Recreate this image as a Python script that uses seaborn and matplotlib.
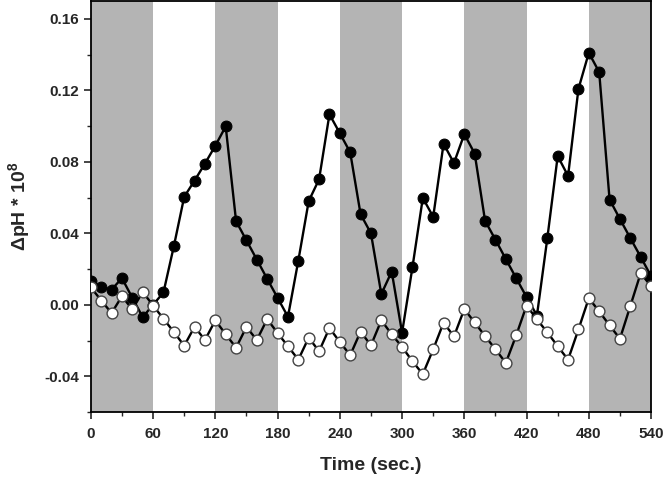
import matplotlib
matplotlib.use("Agg")
import matplotlib.pyplot as plt
from matplotlib.ticker import MultipleLocator, FormatStrFormatter
import seaborn as sns
import pandas as pd
import numpy as np

# donnees (pas de 10 s)
temps = list(range(0, 550, 10))
ph_plein = [0.0135, 0.010, 0.0085, 0.0149, 0.0039, -0.0069, 0.000, 0.0069, 0.0327, 0.0604,
            0.0695, 0.079, 0.089, 0.0998, 0.0468, 0.036, 0.0253, 0.0145, 0.0039, -0.0067,
            0.0247, 0.058, 0.0702, 0.1066, 0.096, 0.0853, 0.0507, 0.040, 0.006, 0.0186,
            -0.0156, 0.021, 0.0598, 0.0492, 0.0901, 0.0793, 0.0955, 0.0846, 0.047, 0.0364,
            0.0256, 0.0149, 0.0043, -0.006, 0.0372, 0.0832, 0.0721, 0.1208, 0.141, 0.1302,
            0.0589, 0.048, 0.0373, 0.0268, 0.016]
ph_vide = [0.0098, 0.0024, -0.0046, 0.0048, -0.0026, 0.0072, -0.0004, -0.0078, -0.0152, -0.0229,
           -0.0123, -0.0197, -0.0087, -0.0165, -0.024, -0.0124, -0.0197, -0.008, -0.0158, -0.0232,
           -0.0307, -0.0184, -0.026, -0.013, -0.0208, -0.0282, -0.015, -0.0227, -0.0087, -0.0165,
           -0.0236, -0.0316, -0.0388, -0.0249, -0.010, -0.0177, -0.0024, -0.0099, -0.0175, -0.0249,
           -0.0325, -0.0171, -0.0004, -0.0082, -0.0154, -0.0232, -0.0307, -0.0138, 0.0037, -0.0037,
           -0.0115, -0.019, -0.0007, 0.0177, 0.0104]
bandes = [(0, 60), (120, 180), (240, 300), (360, 420), (480, 540)]

df = pd.DataFrame({"t": temps, "plein": ph_plein, "vide": ph_vide})

sns.set_style("ticks")
plt.rcParams['font.family'] = ['Liberation Sans', 'DejaVu Sans']
plt.rcParams['mathtext.fontset'] = 'custom'
plt.rcParams['mathtext.bf'] = 'Liberation Sans:bold'
plt.rcParams['mathtext.rm'] = 'Liberation Sans:bold'

fig = plt.figure(figsize=(6.63, 4.78), dpi=100)
ax = fig.add_axes([0.137, 0.138, 0.845, 0.86])

# bandes grises (periodes)
for a, b in bandes:
    ax.axvspan(a, b, color="#b4b4b4", lw=0, zorder=0)

sns.lineplot(data=df, x="t", y="plein", ax=ax, color="black", lw=1.7,
             marker="o", markersize=7.8, markerfacecolor="black", markeredgecolor="black",
             zorder=3)
sns.lineplot(data=df, x="t", y="vide", ax=ax, color="black", lw=1.7,
             marker="o", markersize=7.8, markerfacecolor="white", markeredgecolor="#444444",
             markeredgewidth=1.0, zorder=4)

ax.set_xlim(0, 540)
ax.set_ylim(-0.06, 0.17)
ax.xaxis.set_major_locator(MultipleLocator(60))
ax.xaxis.set_minor_locator(MultipleLocator(30))
ax.yaxis.set_major_locator(MultipleLocator(0.04))
ax.yaxis.set_minor_locator(MultipleLocator(0.02))
ax.yaxis.set_major_formatter(FormatStrFormatter("%.2f"))
ax.tick_params(which="major", direction="out", length=5, width=1.2, labelsize=11)
ax.tick_params(axis="x", which="major", pad=6)
ax.tick_params(which="minor", direction="out", length=3, width=1.0)
for lab in ax.get_xticklabels() + ax.get_yticklabels():
    lab.set_fontweight("bold")
for s in ax.spines.values():
    s.set_visible(True)
    s.set_linewidth(1.3)
    s.set_color("black")

ax.set_xlabel("Time (sec.)", fontsize=14, fontweight="bold", labelpad=11)
ax.set_ylabel(r"ΔpH * 10$^{\mathbf{8}}$", fontsize=14, fontweight="bold", labelpad=8)

fig.savefig("out.png", dpi=100)
